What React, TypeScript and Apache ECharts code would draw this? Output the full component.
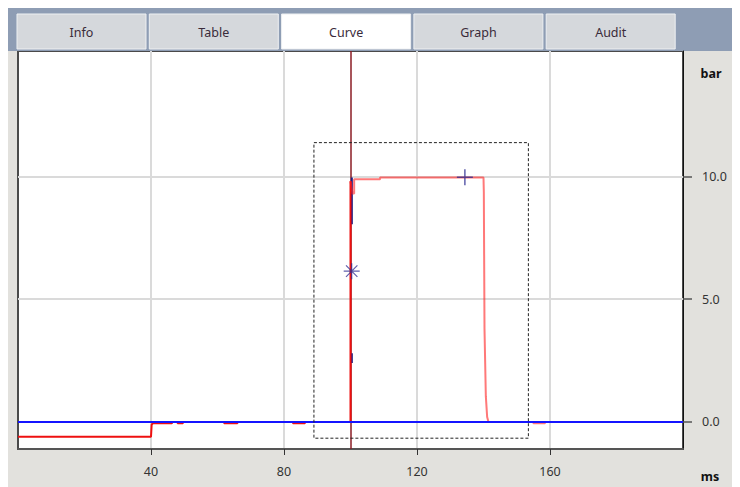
import React, { useEffect, useRef } from "react";
import * as echarts from "echarts";

// ---- data ----
const tabs = ["Info", "Table", "Curve", "Graph", "Audit"];
const activeTab = "Curve";
const xTickValues = [40, 80, 120, 160];
const yTickValues = [0, 5, 10];
const xUnit = "ms";
const yUnit = "bar";
const cursorX = 100.15;

// red pressure curve (ms, bar) – solid part up to the jump
const redStart: [number, number][] = [
  [0, -0.6], [40.0, -0.6], [40.2, -0.1], [40.6, -0.05],
  [46.3, -0.05], [46.4, 0], [48.0, 0], [48.0, -0.05], [49.6, -0.05], [49.6, 0],
  [62.0, 0], [62.0, -0.05], [66.0, -0.05], [66.0, 0], [82.7, 0], [82.7, -0.05], [86.3, -0.05],
  [86.3, 0], [100.0, 0], [100.0, 9.8],
];
// red pressure curve – plateau and drop (lighter)
const redMain: [number, number][] = [
  [100.0, 9.8], [100.6, 9.3], [101.1, 9.3], [101.1, 9.88],
  [108.9, 9.88], [108.9, 9.95], [140.0, 9.95], [140.1, 9.35], [140.3, 3.8],
  [140.7, 1.05], [141.1, 0.2], [141.5, 0], [155, 0],
  [155, -0.05], [158.5, -0.05], [158.5, 0], [200, 0],
];
// navy trace pieces at the jump
const navyTrace: ([number, number] | null)[] = [
  [100.4, 9.95], [100.4, 8.05], null, [100.4, 2.8], [100.4, 2.4],
];
// blue reference line
const blueLine: [number, number][] = [[0, 0], [200, 0]];
// dashed selection box corners
const boxX = [89.0, 153.5];
const boxY = [-0.66, 11.37];
// markers
const starPoint: [number, number] = [100.36, 6.14];
const plusPoint: [number, number] = [134.4, 9.96];

const FONT = "'Noto Sans', 'Open Sans', sans-serif";

export default function App() {
  const ref = useRef<HTMLDivElement>(null);
  useEffect(() => {
    if (!ref.current) return;
    const chart = echarts.init(ref.current, undefined, { renderer: "svg" });

    const boxData: [number, number][] = [
      [boxX[0], boxY[1]], [boxX[1], boxY[1]], [boxX[1], boxY[0]], [boxX[0], boxY[0]], [boxX[0], boxY[1]],
    ];

    const tabW = 129;
    const tabStep = 132.3;
    const tabGraphics: any[] = [];
    tabs.forEach((t, i) => {
      const x = 9 + i * tabStep;
      tabGraphics.push({
        type: "rect",
        shape: { x: x, y: 6, width: tabW, height: 35 },
        style: { fill: t === activeTab ? "#ffffff" : "#d5d8dc", stroke: "#eef0f2", lineWidth: 1 },
        z: 1,
      });
      tabGraphics.push({
        type: "text",
        x: x + tabW / 2,
        y: 24,
        style: { text: t, fill: "#3a2b3a", fontSize: 12.5, fontFamily: FONT, align: "center", verticalAlign: "middle" },
        z: 2,
      });
    });

    const option: any = {
      animation: false,
      backgroundColor: "#e2e1dd",
      graphic: [
        { type: "rect", shape: { x: 0, y: 0, width: 732, height: 43 }, style: { fill: "#8e9db4" }, z: 0 },
        ...tabGraphics,
        {
          type: "text", x: 703, y: 65,
          style: { text: yUnit, fill: "#111", fontSize: 12.5, fontWeight: "bold", fontFamily: FONT, align: "center", verticalAlign: "middle" },
        },
        {
          type: "text", x: 702, y: 468,
          style: { text: xUnit, fill: "#111", fontSize: 12.5, fontWeight: "bold", fontFamily: FONT, align: "center", verticalAlign: "middle" },
        },
      ],
      grid: {
        left: 10, top: 43, width: 665, height: 398,
        show: true, backgroundColor: "#ffffff", borderColor: "#4a4a4a", borderWidth: 2,
      },
      xAxis: {
        type: "value", min: 0, max: 200,
        axisLine: { show: true, onZero: false, lineStyle: { color: "#555", width: 2 } },
        axisTick: { show: true, length: 6, customValues: xTickValues, lineStyle: { color: "#333", width: 1 } },
        axisLabel: { customValues: xTickValues, margin: 16, color: "#333", fontSize: 12.5, fontFamily: FONT },
        splitLine: { show: true, lineStyle: { color: "#dadada", width: 2 } },
      },
      yAxis: {
        type: "value", position: "right", min: -1.1, max: 15.1,
        axisLine: { show: true, onZero: false, lineStyle: { color: "#111", width: 1 } },
        axisTick: { show: true, length: 9, customValues: yTickValues, lineStyle: { color: "#555", width: 1.5 } },
        axisLabel: {
          customValues: yTickValues, margin: 19, color: "#333", fontSize: 12.5, fontFamily: FONT,
          formatter: (v: number) => v.toFixed(1),
        },
        splitLine: { show: true, lineStyle: { color: "#dadada", width: 2 } },
      },
      series: [
        {
          type: "line", data: navyTrace, showSymbol: false, symbol: "none", connectNulls: false,
          lineStyle: { color: "#1c1c80", width: 2 }, z: 2,
          markLine: {
            z: 1, silent: true, symbol: ["none", "none"], label: { show: false },
            lineStyle: { color: "#8b1c24", width: 1.5, type: "solid" },
            data: [{ xAxis: cursorX }],
          },
        },
        {
          type: "line", data: redStart, showSymbol: false, symbol: "none",
          lineStyle: { color: "#ee1010", width: 2 }, z: 3,
        },
        {
          type: "line", data: redMain, showSymbol: false, symbol: "none",
          lineStyle: { color: "#ff2020", width: 2, opacity: 0.6 }, z: 4,
        },
        {
          type: "line", data: blueLine, showSymbol: false, symbol: "none",
          lineStyle: { color: "#1414ff", width: 2 }, z: 5,
        },
        {
          type: "line", data: boxData, showSymbol: false, symbol: "none",
          lineStyle: { color: "#222", width: 1, type: [3, 2] }, z: 6,
        },
        {
          type: "scatter", data: [starPoint], symbol: "path://M8 0L8 16M0 8L16 8M2.3 2.3L13.7 13.7M13.7 2.3L2.3 13.7",
          symbolSize: 16,
          itemStyle: { color: "transparent", borderColor: "#2a2a90", borderWidth: 1.2, opacity: 0.75 }, z: 7,
        },
        {
          type: "scatter", data: [plusPoint], symbol: "path://M8 0L8 16M0 8L16 8",
          symbolSize: 16,
          itemStyle: { color: "transparent", borderColor: "#2a2a90", borderWidth: 1.5, opacity: 0.75 }, z: 7,
        },
      ],
    };
    chart.setOption(option);
    return () => chart.dispose();
  }, []);
  return <div ref={ref} style={{ width: 732, height: 479 }} />;
}
